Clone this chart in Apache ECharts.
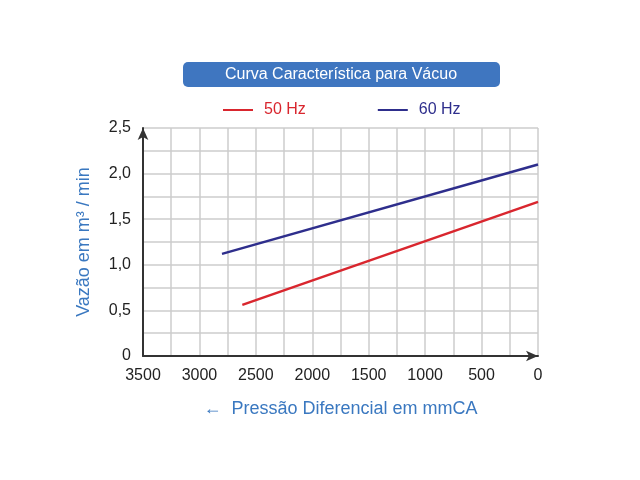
<!DOCTYPE html>
<html><head><meta charset="utf-8">
<script src="https://cdn.jsdelivr.net/npm/echarts@6/dist/echarts.min.js"></script>
<style>html,body{margin:0;background:#fff}#c{width:640px;height:480px}</style>
</head><body><div id="c"></div>
<script>
// pressão (mmCA) e vazão (m3/min)
var pressao50 = [2620, 0];
var vazao50 = [0.56, 1.69];
var pressao60 = [2800, 0];
var vazao60 = [1.12, 2.10];
var serieNomes = ['50 Hz', '60 Hz'];
var cores = ['#d9262e', '#2e2e8c'];

function pares(xs, ys) {
	var out = [];
	for (var i = 0; i < xs.length; i++) out.push([xs[i], ys[i]]);
	return out;
}

var chart = echarts.init(document.getElementById('c'));
var font = 'Liberation Sans';
chart.setOption({
	animation: false,
	grid: {left: 143, right: 102, top: 128, bottom: 124},
	graphic: [
		{type: 'rect', shape: {x: 183, y: 62, width: 317, height: 25, r: 5}, style: {fill: '#3f76c0'}},
		{type: 'text', x: 341, y: 75, style: {text: 'Curva Característica para Vácuo', fill: '#fff', font: '16px ' + font, align: 'center', verticalAlign: 'middle'}}
	],
	legend: {
		top: 97, left: 218, itemGap: 72, itemWidth: 30, itemHeight: 2,
		icon: 'rect',
		data: [
			{name: serieNomes[0], textStyle: {color: cores[0]}},
			{name: serieNomes[1], textStyle: {color: cores[1]}}
		],
		textStyle: {fontSize: 16, fontFamily: font, padding: [0, 0, 0, 6]}
	},
	xAxis: {
		type: 'value', inverse: true, min: 0, max: 3500, interval: 250,
		name: '←  Pressão Diferencial em mmCA', nameLocation: 'middle', nameGap: 44,
		nameTextStyle: {color: '#3a78c0', fontSize: 18, fontFamily: font},
		axisLine: {lineStyle: {color: '#333', width: 2}, symbol: ['none', 'arrow'], symbolSize: [8, 12]},
		axisTick: {show: false},
		axisLabel: {color: '#222', fontSize: 16, fontFamily: font, margin: 12,
			formatter: function (v) { return v % 500 === 0 ? String(v) : ''; }},
		splitLine: {lineStyle: {color: '#ccc', width: 1.5}}
	},
	yAxis: {
		type: 'value', min: 0, max: 2.5, interval: 0.25, position: 'left',
		name: 'Vazão em m³ / min', nameLocation: 'middle', nameGap: 50,
		nameTextStyle: {color: '#3a78c0', fontSize: 18, fontFamily: font},
		axisLine: {show: true, onZero: false, lineStyle: {color: '#333', width: 2}, symbol: ['none', 'arrow'], symbolSize: [8, 12]},
		axisTick: {show: false},
		axisLabel: {color: '#222', fontSize: 16, fontFamily: font, margin: 12,
			formatter: function (v) {
				if (Math.abs(v * 2 - Math.round(v * 2)) > 1e-6) return '';
				return v === 0 ? '0' : v.toFixed(1).replace('.', ',');
			}},
		splitLine: {lineStyle: {color: '#ccc', width: 1.5}}
	},
	series: [
		{name: serieNomes[0], type: 'line', data: pares(pressao50, vazao50), showSymbol: false, lineStyle: {color: cores[0], width: 2.5}, itemStyle: {color: cores[0]}},
		{name: serieNomes[1], type: 'line', data: pares(pressao60, vazao60), showSymbol: false, lineStyle: {color: cores[1], width: 2.5}, itemStyle: {color: cores[1]}}
	]
});
</script></body></html>
